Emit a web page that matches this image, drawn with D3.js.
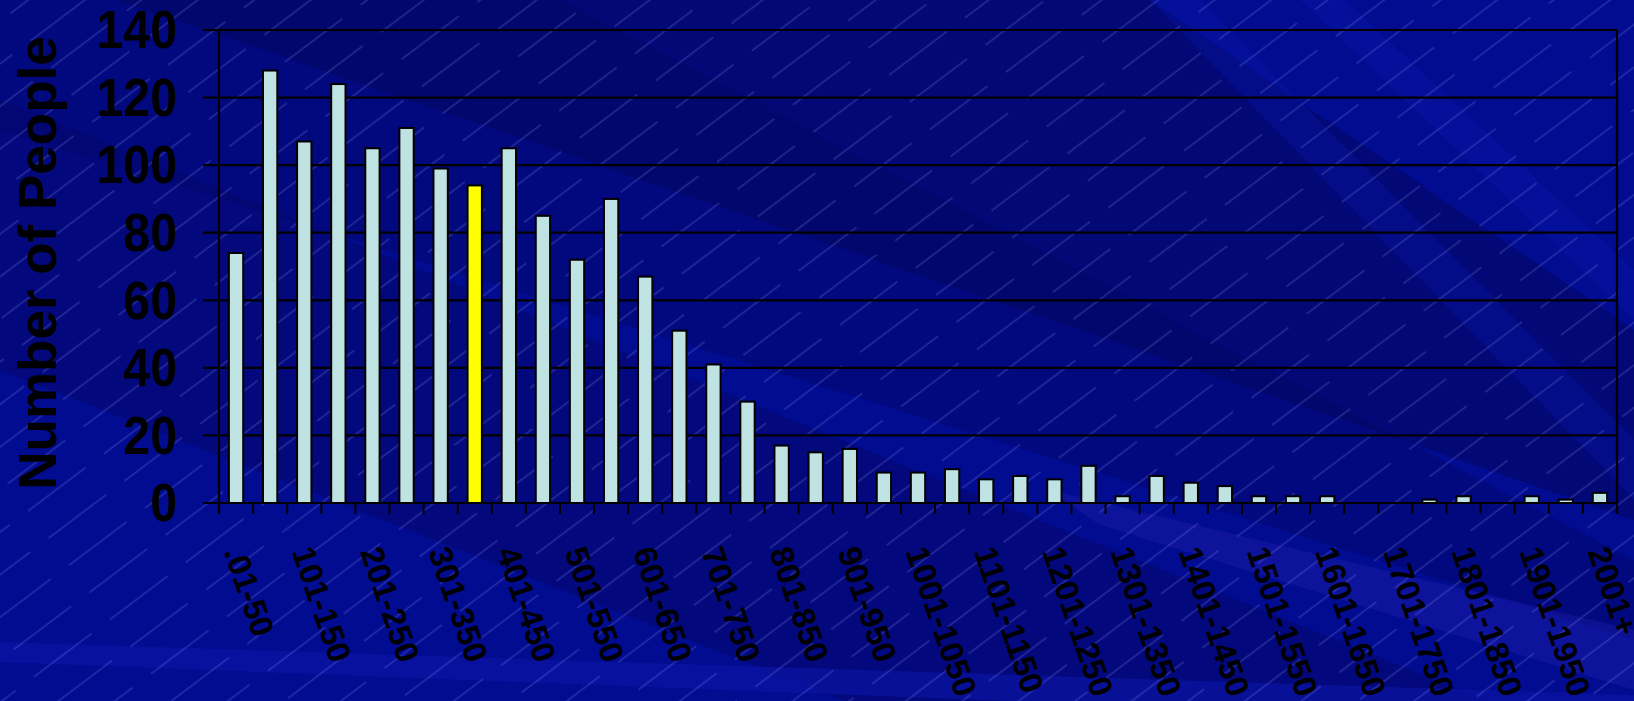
<!DOCTYPE html>
<html>
<head>
<meta charset="utf-8">
<script src="https://cdn.jsdelivr.net/npm/d3@7"></script>
<style>
  html, body { margin: 0; padding: 0; background: #020c8e; }
  svg { display: block; }
  text { font-family: "Liberation Sans", Arial, sans-serif; font-weight: bold; fill: #000; }
</style>
</head>
<body>
<svg id="chart" width="1634" height="701"></svg>
<script>
// ---- data ----
const categories = [
  ".01-50","51-100","101-150","151-200","201-250","251-300","301-350","351-400",
  "401-450","451-500","501-550","551-600","601-650","651-700","701-750","751-800",
  "801-850","851-900","901-950","951-1000","1001-1050","1051-1100","1101-1150","1151-1200",
  "1201-1250","1251-1300","1301-1350","1351-1400","1401-1450","1451-1500","1501-1550","1551-1600",
  "1601-1650","1651-1700","1701-1750","1751-1800","1801-1850","1851-1900","1901-1950","1951-2000",
  "2001+"
];
const people = [
  74, 128, 107, 124, 105, 111, 99, 94,
  105, 85, 72, 90, 67, 51, 41, 30,
  17, 15, 16, 9, 9, 10, 7, 8,
  7, 11, 2, 8, 6, 5, 2, 2,
  2, 0, 0, 1, 2, 0, 2, 1,
  3
];
const highlighted = ["351-400"];
const yTicks = [0, 20, 40, 60, 80, 100, 120, 140];
const yTitle = "Number of People";

// ---- layout ----
const W = 1634, H = 701;
const plot = { left: 219, right: 1617, top: 30, bottom: 503 };

const svg = d3.select("#chart");

// ---- background ----
const defs = svg.append("defs");
const pat = defs.append("pattern")
  .attr("id", "hatch").attr("patternUnits", "userSpaceOnUse")
  .attr("width", 95).attr("height", 34)
  .attr("patternTransform", "rotate(-37)");
pat.append("line").attr("x1", 0).attr("y1", 17).attr("x2", 72).attr("y2", 17)
  .attr("stroke", "#a0a8ff").attr("stroke-width", 0.9).attr("stroke-opacity", 0.38);

const bg = svg.append("g");
bg.append("rect").attr("width", W).attr("height", H).attr("fill", "#020c90");
const bands = [
  { pts: [[0,0],[1150,0],[1634,330],[1634,520],[0,-40]], c: "#030660", o: 0.55 },
  { pts: [[0,100],[0,370],[1634,1010],[1634,760]], c: "#03066a", o: 0.5 },
  { pts: [[0,0],[560,0],[1634,560],[1634,640],[0,130]], c: "#020660", o: 0.35 },
  { pts: [[1150,0],[1200,0],[1634,440],[1634,500]], c: "#0a16b4", o: 0.3 },
  { pts: [[1300,0],[1345,0],[1634,270],[1634,320]], c: "#0a16b4", o: 0.3 },
  { pts: [[0,642],[0,662],[1634,725],[1634,695]], c: "#0c14a2", o: 0.7 },
  { pts: [[1050,490],[1634,630],[1634,690],[1100,525]], c: "#1a1ca8", o: 0.45 }
];
bg.selectAll("polygon").data(bands).join("polygon")
  .attr("points", d => d.pts.map(p => p.join(",")).join(" "))
  .attr("fill", d => d.c).attr("fill-opacity", d => d.o);
bg.append("rect").attr("width", W).attr("height", H).attr("fill", "url(#hatch)");

// ---- scales ----
const x = d3.scaleBand().domain(categories)
  .range([plot.left, plot.right]).paddingInner(0.58).paddingOuter(0.29);
const y = d3.scaleLinear().domain([0, 140]).range([plot.bottom, plot.top]);

// ---- gridlines + y ticks ----
const gy = svg.append("g");
gy.selectAll("line.grid").data(yTicks).join("line")
  .attr("class", "grid")
  .attr("x1", plot.left - 16).attr("x2", plot.right)
  .attr("y1", d => y(d)).attr("y2", d => y(d))
  .attr("stroke", "#000").attr("stroke-width", 2.2);

gy.selectAll("text").data(yTicks).join("text")
  .attr("transform", d => `translate(177,${y(d)}) scale(0.91,1)`)
  .attr("text-anchor", "end").attr("dominant-baseline", "central")
  .attr("font-size", 53)
  .text(d => d);

// axes frame lines
svg.append("line").attr("x1", plot.left).attr("x2", plot.left)
  .attr("y1", plot.top).attr("y2", plot.bottom + 11)
  .attr("stroke", "#000").attr("stroke-width", 2.2);
svg.append("line").attr("x1", plot.right).attr("x2", plot.right)
  .attr("y1", plot.top).attr("y2", plot.bottom + 11)
  .attr("stroke", "#000").attr("stroke-width", 2.2);

// x ticks at band boundaries
const boundaries = categories.map(c => x(c) - x.step() * x.paddingInner() / 2);
svg.append("g").selectAll("line").data(boundaries).join("line")
  .attr("x1", d => d).attr("x2", d => d)
  .attr("y1", plot.bottom).attr("y2", plot.bottom + 11)
  .attr("stroke", "#000").attr("stroke-width", 2);

// ---- bars ----
svg.append("g").selectAll("rect").data(categories.map((c, i) => ({ c, v: people[i] })))
  .join("rect")
  .attr("x", d => x(d.c)).attr("width", x.bandwidth())
  .attr("y", d => y(d.v)).attr("height", d => y(0) - y(d.v))
  .attr("fill", d => highlighted.includes(d.c) ? "#ffff00" : "#bfe3e3")
  .attr("stroke", "#000").attr("stroke-width", 2)
  .attr("display", d => d.v > 0 ? null : "none");

// redraw base line on top
svg.append("line").attr("x1", plot.left - 16).attr("x2", plot.right)
  .attr("y1", y(0)).attr("y2", y(0)).attr("stroke", "#000").attr("stroke-width", 2.2);

// ---- x labels (every other category) ----
const shown = categories.filter((c, i) => i % 2 === 0);
svg.append("g").selectAll("text").data(shown).join("text")
  .attr("transform", d => `translate(${x(d) + x.bandwidth() / 2 - 2},${548}) rotate(71)`)
  .attr("text-anchor", "start").attr("dominant-baseline", "central")
  .attr("font-size", 32.5)
  .text(d => d);

// ---- y title ----
svg.append("text")
  .attr("transform", `translate(56,263) rotate(-90)`)
  .attr("text-anchor", "middle")
  .attr("font-size", 53)
  .text(yTitle);
</script>
</body>
</html>
